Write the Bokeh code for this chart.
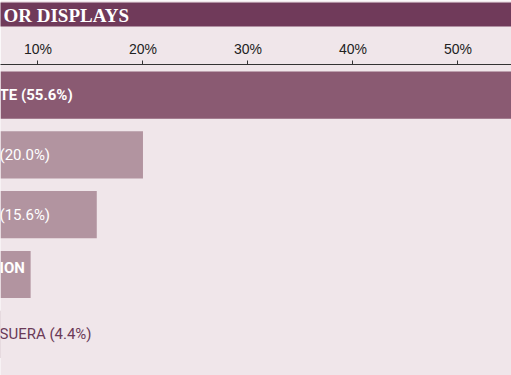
from bokeh.plotting import figure
from bokeh.models import Range1d, FixedTicker, PrintfTickFormatter, Title, ColumnDataSource
from bokeh.core.properties import value
from bokeh.embed import file_html
from bokeh.resources import INLINE

# ---- data (visible fragments of a cropped chart) ----
labels = ["TE (55.6%)", "(20.0%)", "(15.6%)", "ION", "SUERA (4.4%)"]
shares = [55.6, 20.0, 15.6, 9.3, 4.4]
tick_values = [10, 20, 30, 40, 50]
title_text = "OR DISPLAYS"

BG = "#f0e6ea"
DARK = "#8a5a72"
LIGHT = "#b294a0"
TITLE_BG = "#703a5a"

X0, X1 = 6.43, 55.1
idx = list(range(len(shares)))

p = figure(width=511, height=375, output_backend="svg", toolbar_location=None,
           x_range=Range1d(X0, X1), y_range=Range1d(4.689, -0.512),
           x_axis_location="above", y_axis_location=None,
           min_border=0, border_fill_color=BG, background_fill_color=BG,
           outline_line_color=None)
p.grid.visible = False

t = Title(text=title_text, align="left", text_color="white",
          text_font="Liberation Serif", text_font_style="bold",
          text_font_size="19px", background_fill_color=TITLE_BG,
          standoff=0, offset=0, padding=(3, 420, 2, 1))
p.add_layout(t, "above")

ax = p.xaxis[0]
ax.ticker = FixedTicker(ticks=tick_values)
ax.formatter = PrintfTickFormatter(format="%d%%")
ax.major_label_text_font = "Liberation Sans"
ax.major_label_text_font_size = "14px"
ax.major_label_text_color = "#222222"
ax.major_label_standoff = 4
ax.axis_line_color = "#333333"
ax.major_tick_line_color = "#333333"
ax.major_tick_out = 4
ax.major_tick_in = 0
ax.minor_tick_line_color = None
ax.axis_label = " "
ax.axis_label_text_font_size = "7px"
ax.axis_label_standoff = 1

colors = [DARK if i == 0 else LIGHT for i in idx]
src = ColumnDataSource(dict(y=idx, right=shares, color=colors))
p.hbar(y="y", left=0, right="right", height=0.79, fill_color="color",
       line_color=None, source=src)

font = value("Roboto")
p.text(x=[X0], y=[0], text=[labels[0]], text_color="white", text_font=font,
       text_font_style="bold", text_font_size="15px", text_baseline="middle",
       x_offset=-1)
p.text(x=[X0, X0], y=[1, 2], text=labels[1:3], text_color="white", text_font=font,
       text_font_size="15px", text_baseline="middle", x_offset=-1)
p.text(x=[X0], y=[3], text=[labels[3]], text_color="white", text_font=font,
       text_font_style="bold", text_font_size="15px", text_baseline="middle",
       y_offset=-7, x_offset=-1)
p.text(x=[X0], y=[4], text=[labels[4]], text_color="#6b3a58", text_font=font,
       text_font_size="15px", text_baseline="middle", x_offset=-1)

open("out.html", "w").write(file_html(p, INLINE))
